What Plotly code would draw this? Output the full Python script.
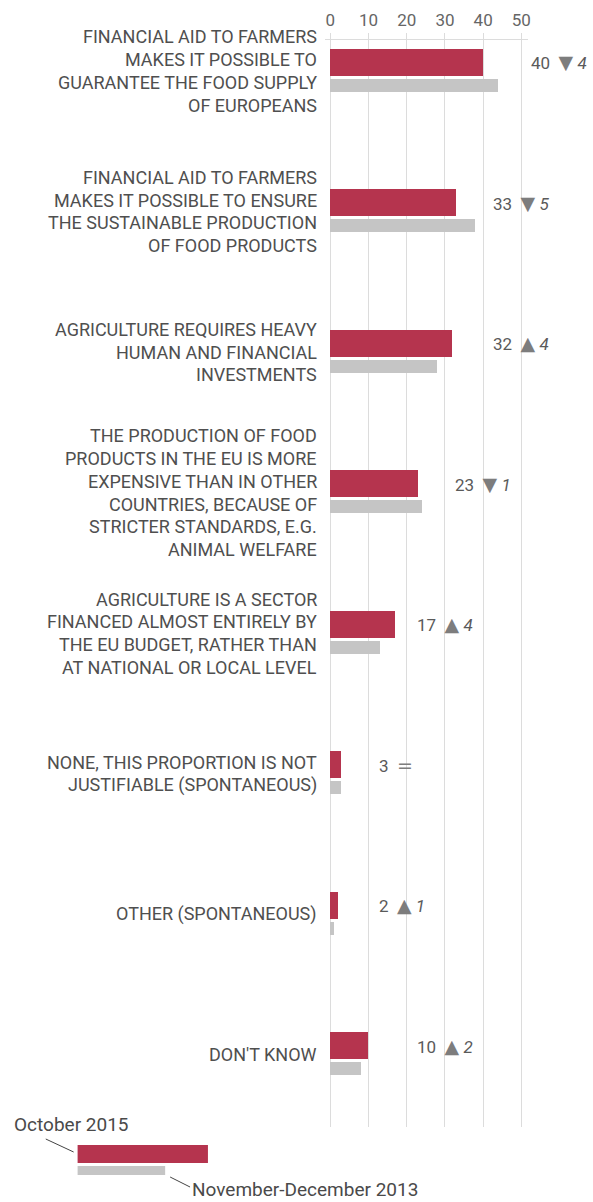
import plotly.graph_objects as go

# ---------------- data ----------------
categories = [
    ["FINANCIAL AID TO FARMERS", "MAKES IT POSSIBLE TO", "GUARANTEE THE FOOD SUPPLY", "OF EUROPEANS"],
    ["FINANCIAL AID TO FARMERS", "MAKES IT POSSIBLE TO ENSURE", "THE SUSTAINABLE PRODUCTION", "OF FOOD PRODUCTS"],
    ["AGRICULTURE REQUIRES HEAVY", "HUMAN AND FINANCIAL", "INVESTMENTS"],
    ["THE PRODUCTION OF FOOD", "PRODUCTS IN THE EU IS MORE", "EXPENSIVE THAN IN OTHER", "COUNTRIES, BECAUSE OF",
     "STRICTER STANDARDS, E.G.", "ANIMAL WELFARE"],
    ["AGRICULTURE IS A SECTOR", "FINANCED ALMOST ENTIRELY BY", "THE EU BUDGET, RATHER THAN", "AT NATIONAL OR LOCAL LEVEL"],
    ["NONE, THIS PROPORTION IS NOT", "JUSTIFIABLE (SPONTANEOUS)"],
    ["OTHER (SPONTANEOUS)"],
    ["DON'T KNOW"],
]
oct_2015 = [40, 33, 32, 23, 17, 3, 2, 10]
nov_dec_2013 = [44, 38, 28, 24, 13, 3, 1, 8]
tick_values = [0, 10, 20, 30, 40, 50]
series_names = ["October 2015", "November-December 2013"]

# ---------------- styling ----------------
W, H = 593, 1202
RED = "#b5344e"
GREY = "#c5c5c5"
GRID = "#dcdcdc"
LABEL = "#4f4f4f"
FONT = "Roboto"

PLOT_TOP, PLOT_BOTTOM = 40, 1127
X_LEFT, X_RIGHT = 327, 531
S = 140.57            # pixels per category step
FIRST = 62            # pixel centre of first red bar
RED_W, GREY_W, GREY_OFF = 27, 13, 23

y_top = (PLOT_TOP - FIRST) / S
y_bot = (PLOT_BOTTOM - FIRST) / S
x_per_px = 50 / (524 - 332)
x0 = -(332 - X_LEFT) * x_per_px
x1 = (X_RIGHT - 332) * x_per_px

pos = list(range(len(categories)))

fig = go.Figure()
fig.add_trace(go.Bar(
    orientation="h", x=oct_2015, y=pos, width=RED_W / S,
    marker=dict(color=RED, line=dict(width=0)), name=series_names[0],
    hoverinfo="x",
))
fig.add_trace(go.Bar(
    orientation="h", x=nov_dec_2013, y=[p + GREY_OFF / S for p in pos], width=GREY_W / S,
    marker=dict(color=GREY, line=dict(width=0)), name=series_names[1],
    hoverinfo="x",
))

def px_x(px):
    return px / W

def px_y(py):
    return (PLOT_BOTTOM - py) / (PLOT_BOTTOM - PLOT_TOP)

annotations = []
LINE_H = 22.7
for i, lines in enumerate(categories):
    n = len(lines)
    for j, line in enumerate(lines):
        off = 9 + (j - (n - 1) / 2) * LINE_H
        annotations.append(dict(
            xref="paper", yref="y", x=px_x(321), y=i, yshift=-off,
            xanchor="right", yanchor="middle", showarrow=False,
            text=line, font=dict(family=FONT, size=18, color=LABEL),
        ))

# value + change annotations
TRI = "<span style='color:#7d7d7d;font-family:DejaVu Sans;font-size:19px'>%s</span>"
for i, (a, b) in enumerate(zip(oct_2015, nov_dec_2013)):
    d = a - b
    if d > 0:
        sym = TRI % "▲" + " <i>%d</i>" % abs(d)
    elif d < 0:
        sym = TRI % "▼" + " <i>%d</i>" % abs(d)
    else:
        sym = TRI % "="
    gx = (a // 10 + 1) * 10
    annotations.append(dict(
        xref="x", yref="y", x=gx, y=i, xshift=8,
        xanchor="left", yanchor="middle", showarrow=False,
        text="%d&nbsp; %s" % (a, sym), font=dict(family=FONT, size=17, color="#5a5a5a"),
    ))

# legend
annotations.append(dict(
    xref="paper", yref="paper", x=px_x(12), y=px_y(1124), xanchor="left", yanchor="middle",
    showarrow=False, text=series_names[0], font=dict(family=FONT, size=19, color="#4a4a4a"),
))
annotations.append(dict(
    xref="paper", yref="paper", x=px_x(191), y=px_y(1189), xanchor="left", yanchor="middle",
    showarrow=False, text=series_names[1], font=dict(family=FONT, size=19, color="#4a4a4a"),
))

shapes = [
    dict(type="rect", xref="paper", yref="paper", x0=px_x(78), x1=px_x(209),
         y0=px_y(1163), y1=px_y(1145), fillcolor=RED, line=dict(width=0)),
    dict(type="rect", xref="paper", yref="paper", x0=px_x(78), x1=px_x(166),
         y0=px_y(1175), y1=px_y(1166), fillcolor=GREY, line=dict(width=0)),
    dict(type="line", xref="paper", yref="paper", x0=px_x(46), x1=px_x(74),
         y0=px_y(1139), y1=px_y(1152), line=dict(color="#444444", width=1)),
    dict(type="line", xref="paper", yref="paper", x0=px_x(171), x1=px_x(191),
         y0=px_y(1177), y1=px_y(1187), line=dict(color="#444444", width=1)),
]

fig.update_layout(
    width=W, height=H,
    margin=dict(l=0, r=0, t=PLOT_TOP, b=H - PLOT_BOTTOM, pad=0),
    paper_bgcolor="white", plot_bgcolor="white",
    showlegend=False, barmode="overlay", bargap=0,
    font=dict(family=FONT, size=16, color=LABEL),
    xaxis=dict(
        domain=[X_LEFT / W, X_RIGHT / W], range=[x0, x1], side="top",
        tickvals=tick_values, ticktext=[str(v) for v in tick_values],
        ticks="outside", ticklen=6, tickcolor=GRID, tickwidth=1,
        showline=True, linecolor=GRID, linewidth=1,
        showgrid=True, gridcolor=GRID, gridwidth=1, zeroline=False,
        tickfont=dict(family=FONT, size=17, color="#666666"), fixedrange=True,
    ),
    yaxis=dict(
        range=[y_bot, y_top], showgrid=False, zeroline=False, showticklabels=False,
        ticks="", showline=False, fixedrange=True,
    ),
    annotations=annotations, shapes=shapes,
)

fig.write_html(
    "out.html",
    config={"displayModeBar": False},
    post_script="document.body.style.margin='0';document.body.style.overflow='hidden';",
)
